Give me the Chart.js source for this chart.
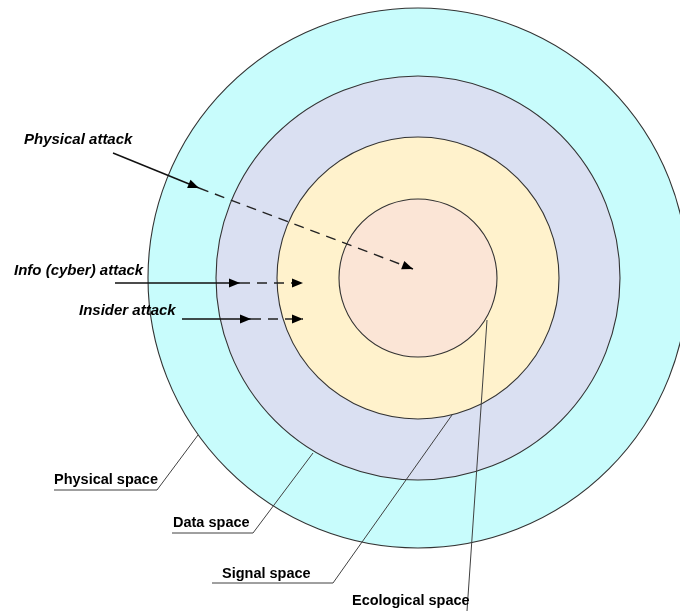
<!DOCTYPE html>
<html>
<head>
<meta charset="utf-8">
<script src="https://cdn.jsdelivr.net/npm/chart.js@4.4.1/dist/chart.umd.min.js"></script>
<style>
  html, body { margin: 0; padding: 0; background: #ffffff; }
  #wrap { width: 680px; height: 611px; position: relative; }
</style>
</head>
<body>
<div id="wrap"><canvas id="spacesChart"></canvas></div>
<script>
// Diagram coordinates (x right, y down), in pixels of the 680x611 frame
const ringNames = ['Physical space', 'Data space', 'Signal space', 'Ecological space'];
const ringCenter = [418, 278];
const ringRadii = [270, 202, 141, 79];
const ringFills = ['#C8FCFC', '#DAE0F2', '#FFF2CC', '#FBE5D6'];

// attack arrows: solid part then dashed part
const attackNames = ['Physical attack', 'Info (cyber) attack', 'Insider attack'];
const attackLabelPos = [[24, 144], [14, 275], [79, 315]];
const attackSolid = [
    [[113, 153], [199, 188]],
    [[115, 283], [240, 283]],
    [[182, 319], [251, 319]]
];
const attackDashed = [
    [[199, 188], [413, 269]],
    [[240, 283], [303, 283]],
    [[251, 319], [303, 319]]
];

// leader lines for the ring labels
const ringLabelPos = [[54, 484], [173, 527], [222, 578], [352, 605]];
const ringLeaders = [
    [[54, 490], [157, 490], [198, 435]],
    [[172, 533], [253, 533], [313, 453]],
    [[212, 583], [333, 583], [452, 415]],
    [[467, 611], [487, 320]]
];

const toXY = pts => pts.map(p => ({ x: p[0], y: p[1] }));

const datasets = [];

// rings, biggest first so smaller ones sit on top
datasets.push({
    type: 'bubble',
    data: ringRadii.map(r => ({ x: ringCenter[0], y: ringCenter[1], r: r })),
    backgroundColor: ringFills,
    borderColor: '#333333',
    borderWidth: 1.1,
    clip: false,
    order: 10
});

ringLeaders.forEach(pts => {
    datasets.push({
        type: 'scatter',
        showLine: true,
        data: toXY(pts),
        borderColor: '#404040',
        borderWidth: 1,
        pointRadius: 0,
        order: 1
    });
});

attackSolid.forEach(pts => {
    datasets.push({
        type: 'scatter',
        showLine: true,
        data: toXY(pts),
        borderColor: '#111111',
        borderWidth: 1.4,
        pointRadius: 0,
        arrow: true,
        order: 0
    });
});

attackDashed.forEach(pts => {
    datasets.push({
        type: 'scatter',
        showLine: true,
        data: toXY(pts),
        borderColor: '#222222',
        borderWidth: 1.4,
        borderDash: [10, 7],
        pointRadius: 0,
        arrow: true,
        order: 0
    });
});

// arrowheads at the end of flagged lines
const arrowPlugin = {
    id: 'arrowHeads',
    afterDatasetsDraw(chart) {
        const ctx = chart.ctx;
        chart.data.datasets.forEach((ds, i) => {
            if (!ds.arrow) return;
            const pts = chart.getDatasetMeta(i).data;
            const a = pts[pts.length - 2], b = pts[pts.length - 1];
            const ang = Math.atan2(b.y - a.y, b.x - a.x);
            const len = 11, half = 4.5;
            ctx.save();
            ctx.translate(b.x, b.y);
            ctx.rotate(ang);
            ctx.beginPath();
            ctx.moveTo(0, 0);
            ctx.lineTo(-len, -half);
            ctx.lineTo(-len, half);
            ctx.closePath();
            ctx.fillStyle = '#000000';
            ctx.fill();
            ctx.restore();
        });
    }
};

// text labels
const labelPlugin = {
    id: 'diagramLabels',
    afterDraw(chart) {
        const ctx = chart.ctx;
        const xs = chart.scales.x, ys = chart.scales.y;
        ctx.save();
        ctx.fillStyle = '#000000';
        ctx.textBaseline = 'alphabetic';
        ctx.textAlign = 'left';
        ctx.font = 'italic bold 15px "Liberation Sans", Arial, sans-serif';
        attackNames.forEach((t, i) => {
            ctx.fillText(t, xs.getPixelForValue(attackLabelPos[i][0]), ys.getPixelForValue(attackLabelPos[i][1]));
        });
        ctx.font = 'bold 14.5px "Liberation Sans", Arial, sans-serif';
        ringNames.forEach((t, i) => {
            ctx.fillText(t, xs.getPixelForValue(ringLabelPos[i][0]), ys.getPixelForValue(ringLabelPos[i][1]));
        });
        ctx.restore();
    }
};

new Chart(document.getElementById('spacesChart').getContext('2d'), {
    type: 'scatter',
    data: { datasets: datasets },
    options: {
        responsive: true,
        maintainAspectRatio: false,
        animation: false,
        layout: { padding: 0, autoPadding: false },
        scales: {
            x: { type: 'linear', min: 0, max: 680, display: false },
            y: { type: 'linear', min: 0, max: 611, reverse: true, display: false }
        },
        plugins: {
            legend: { display: false },
            tooltip: { enabled: false }
        },
        elements: { line: { tension: 0 } }
    },
    plugins: [arrowPlugin, labelPlugin]
});
</script>
</body>
</html>
